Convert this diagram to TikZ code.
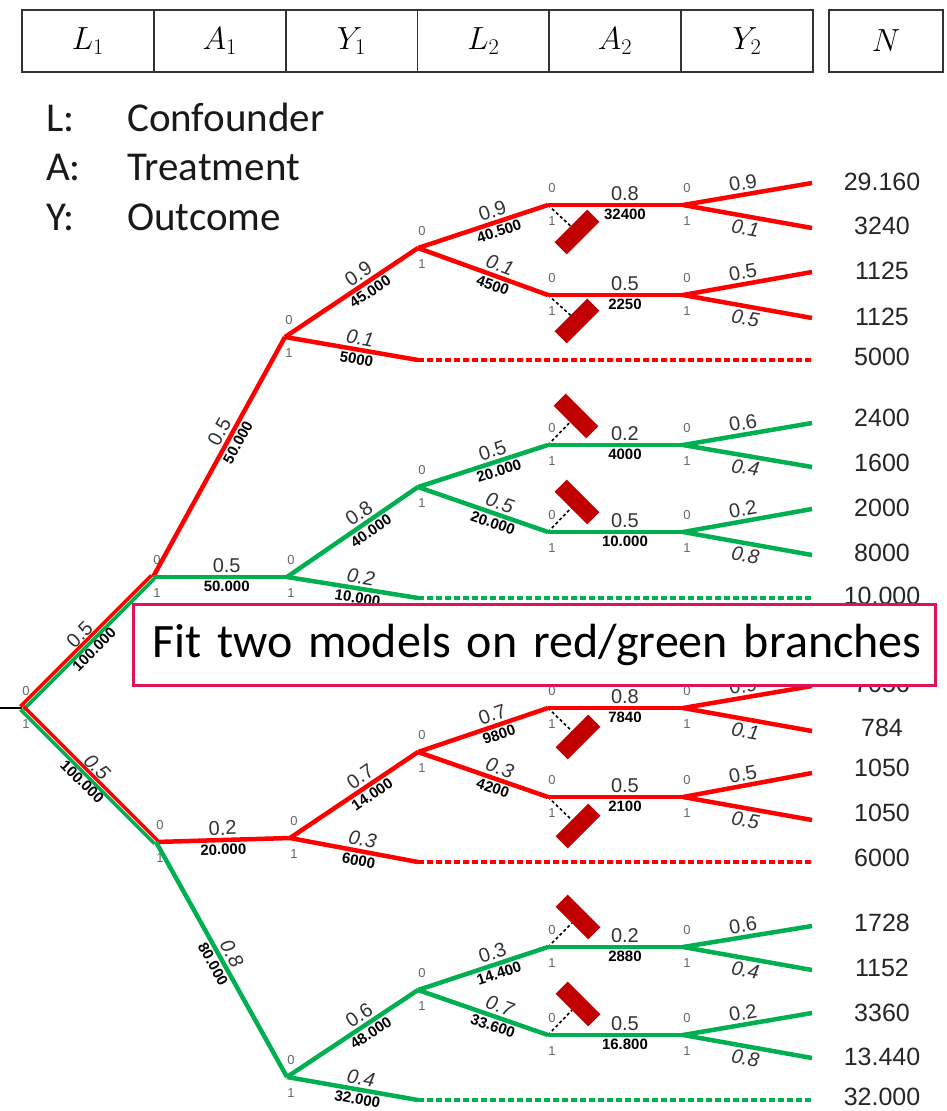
\RequirePackage{fix-cm}
\documentclass[tikz,border=0pt]{standalone}
\usepackage[no-math]{fontspec}
\setmainfont{Liberation Sans}
\newfontfamily\calibri{Carlito}
\usetikzlibrary{positioning}

\definecolor{tred}{RGB}{255,0,0}
\definecolor{tgreen}{RGB}{0,176,80}
\definecolor{tblock}{RGB}{192,0,0}
\definecolor{tnote}{RGB}{222,18,90}

\tikzset{
  redln/.style={draw=tred, line width=4.5pt},
  greenln/.style={draw=tgreen, line width=4.5pt},
  redcut/.style={redln, line width=3.5pt, dash pattern=on 6pt off 3pt},
  greencut/.style={greenln, line width=3.5pt, dash pattern=on 6pt off 3pt},
  stubln/.style={draw=black, line width=1.6pt, dash pattern=on 3pt off 2.5pt},
  bit/.style={font=\fontsize{13}{13}\selectfont, text=black!60, inner sep=0pt},
  split/.style={label={[bit, xshift=4pt, yshift=17pt]center:0}, label={[bit, xshift=4pt, yshift=-16pt]center:1}},
  pr/.style={sloped, above, pos=.55, inner sep=2.5pt, text=black!80, font=\fontsize{20}{20}\selectfont},
  pri/.style={pr, font=\fontsize{20}{20}\selectfont\itshape},
  prd/.style={pri, below, pos=.5},
  ct/.style={sloped, below, pos=.55, inner sep=2pt, font=\fontsize{15}{15}\selectfont\bfseries},
  blocked/.style={fill=tblock, minimum width=46pt, minimum height=17pt, inner sep=0pt},
  nval/.style={font=\fontsize{25}{25}\selectfont, text=black!85},
  hbox/.style={draw=black!80, line width=1.8pt, minimum width=131.8pt, minimum height=62pt, outer sep=0pt, font=\fontsize{32}{38}\selectfont},
  legend/.style={anchor=base west, inner sep=0pt, text=black!90, font=\calibri\fontsize{41}{41}\selectfont},
  notebox/.style={draw=tnote, line width=3pt, fill=white, inner xsep=11pt, text width=780pt, align=left, minimum height=81pt, font=\calibri\fontsize{48}{48}\selectfont}
}

\begin{document}
\begin{tikzpicture}[x=1pt, y=-1pt]
\useasboundingbox (0,0) rectangle (946,1111);

% header
\node[hbox] (hL1) at (87.9,41) {$L_1$};
\node[hbox, right=0pt of hL1] (hA1) {$A_1$};
\node[hbox, right=0pt of hA1] (hY1) {$Y_1$};
\node[hbox, right=0pt of hY1] (hL2) {$L_2$};
\node[hbox, right=0pt of hL2] (hA2) {$A_2$};
\node[hbox, right=0pt of hA2] (hY2) {$Y_2$};
\node[hbox, minimum width=114pt] (hN) at (886,41) {$N$};

% legend
\node[legend] (kL) at (46,131) {L:};
\node[legend] (kLt) at (127,131) {Confounder};
\node[legend] (kA) at (46,180) {A:};
\node[legend] (kAt) at (127,180) {Treatment};
\node[legend] (kY) at (46,230) {Y:};
\node[legend] (kYt) at (127,230) {Outcome};

% tree points
\coordinate (in) at (0,708);
\coordinate[split] (r) at (22,708);
\coordinate[split] (a) at (153,577);
\coordinate[split] (b) at (156,842);
\coordinate[split] (a0) at (285,337);
\coordinate[split] (a1) at (287,577);
\coordinate[split] (b0) at (290,838);
\coordinate[split] (b1) at (287,1077);
\coordinate[split] (a00) at (418,248);
\coordinate (a01) at (418,360);
\coordinate[split] (a10) at (418,487);
\coordinate (a11) at (418,598);
\coordinate[split] (b00) at (418,752);
\coordinate (b01) at (418,862);
\coordinate[split] (b10) at (418,990);
\coordinate (b11) at (418,1100);
\coordinate (a01e) at (812,360);
\coordinate (a11e) at (812,598);
\coordinate (b01e) at (812,862);
\coordinate (b11e) at (812,1100);
\coordinate[split] (a000) at (548,205);
\coordinate[split] (a001) at (548,295);
\coordinate[split] (a100) at (548,445);
\coordinate[split] (a101) at (548,532);
\coordinate[split] (b000) at (548,708);
\coordinate[split] (b001) at (548,797);
\coordinate[split] (b100) at (548,947);
\coordinate[split] (b101) at (548,1035);
\coordinate[split] (a000x) at (683,205);
\coordinate[split] (a001x) at (683,295);
\coordinate[split] (a100x) at (683,445);
\coordinate[split] (a101x) at (683,532);
\coordinate[split] (b000x) at (683,708);
\coordinate[split] (b001x) at (683,797);
\coordinate[split] (b100x) at (683,947);
\coordinate[split] (b101x) at (683,1035);
\coordinate (a000u) at (812,183);
\coordinate (a000d) at (812,228);
\coordinate (a001u) at (812,272);
\coordinate (a001d) at (812,318);
\coordinate (a100u) at (812,423);
\coordinate (a100d) at (812,467);
\coordinate (a101u) at (812,509);
\coordinate (a101d) at (812,555);
\coordinate (b000u) at (812,686);
\coordinate (b000d) at (812,731);
\coordinate (b001u) at (812,773);
\coordinate (b001d) at (812,820);
\coordinate (b100u) at (812,926);
\coordinate (b100d) at (812,970);
\coordinate (b101u) at (812,1013);
\coordinate (b101d) at (812,1058);

% root and L1
\draw[black, line width=1.5pt] (in) -- (r);
\draw[greenln, line width=3.5pt, transform canvas={xshift=1.6pt, yshift=-1.6pt}] (r) -- (a);
\draw[redln, line width=3.5pt, transform canvas={xshift=-1.6pt, yshift=1.6pt}] (r) -- (a);
\path (r) -- node[pr, pos=.5, inner sep=4pt]{0.5} node[ct, pos=.5, inner sep=4pt]{100.000} (a);
\draw[greenln, line width=3.5pt, transform canvas={xshift=-1.6pt, yshift=-1.6pt}] (r) -- (b);
\draw[redln, line width=3.5pt, transform canvas={xshift=1.6pt, yshift=1.6pt}] (r) -- (b);
\path (r) -- node[pri, pos=.5, inner sep=4pt]{0.5} node[ct, pos=.5, inner sep=4pt]{100.000} (b);

% A1
\draw[redln] (a) -- node[pr, pos=.58]{0.5} node[ct, pos=.58]{50.000} (a0);
\draw[greenln] (a) -- node[pr]{0.5} node[ct]{50.000} (a1);
\draw[redln] (b) -- node[pr, pos=.5]{0.2} node[ct, pos=.5]{20.000} (b0);
\draw[greenln] (b) -- node[pri, pos=.5]{0.8} node[ct, pos=.5]{80.000} (b1);

% Y1
\draw[redln] (a0) -- node[pr, pos=.6]{0.9} node[ct, pos=.6]{45.000} (a00);
\draw[redln] (a0) -- node[pri]{0.1} node[ct]{5000} (a01);
\draw[greenln] (a1) -- node[pr, pos=.6]{0.8} node[ct, pos=.6]{40.000} (a10);
\draw[greenln] (a1) -- node[pri]{0.2} node[ct]{10.000} (a11);
\draw[redln] (b0) -- node[pr, pos=.6]{0.7} node[ct, pos=.6]{14.000} (b00);
\draw[redln] (b0) -- node[pri]{0.3} node[ct]{6000} (b01);
\draw[greenln] (b1) -- node[pr, pos=.6]{0.6} node[ct, pos=.6]{48.000} (b10);
\draw[greenln] (b1) -- node[pri]{0.4} node[ct]{32.000} (b11);
\draw[redcut] (a01) -- (a01e);
\draw[greencut] (a11) -- (a11e);
\draw[redcut] (b01) -- (b01e);
\draw[greencut] (b11) -- (b11e);

% L2
\draw[redln] (a00) -- node[pr, pos=.6]{0.9} node[ct, pos=.6]{40.500} (a000);
\draw[redln] (a00) -- node[pri, pos=.6]{0.1} node[ct, pos=.6]{4500} (a001);
\draw[greenln] (a10) -- node[pr, pos=.6]{0.5} node[ct, pos=.6]{20.000} (a100);
\draw[greenln] (a10) -- node[pri, pos=.6]{0.5} node[ct, pos=.6]{20.000} (a101);
\draw[redln] (b00) -- node[pr, pos=.6]{0.7} node[ct, pos=.6]{9800} (b000);
\draw[redln] (b00) -- node[pri, pos=.6]{0.3} node[ct, pos=.6]{4200} (b001);
\draw[greenln] (b10) -- node[pr, pos=.6]{0.3} node[ct, pos=.6]{14.400} (b100);
\draw[greenln] (b10) -- node[pri, pos=.6]{0.7} node[ct, pos=.6]{33.600} (b101);

% A2 with the blocked arm
\node[blocked, rotate=45] (xa000) at (577,232) {};
\node[blocked, rotate=45] (xa001) at (577,321) {};
\node[blocked, rotate=-45] (xa100) at (576,416) {};
\node[blocked, rotate=-45] (xa101) at (577,502) {};
\node[blocked, rotate=45] (xb000) at (578,737) {};
\node[blocked, rotate=45] (xb001) at (578,826) {};
\node[blocked, rotate=-45] (xb100) at (578,917) {};
\node[blocked, rotate=-45] (xb101) at (578,1004) {};
\draw[stubln] (a000) -- (xa000);
\draw[stubln] (a001) -- (xa001);
\draw[stubln] (a100) -- (xa100);
\draw[stubln] (a101) -- (xa101);
\draw[stubln] (b000) -- (xb000);
\draw[stubln] (b001) -- (xb001);
\draw[stubln] (b100) -- (xb100);
\draw[stubln] (b101) -- (xb101);
\draw[redln] (a000) -- node[pr, pos=.57]{0.8} node[ct, pos=.57]{32400} (a000x);
\draw[redln] (a001) -- node[pr, pos=.57]{0.5} node[ct, pos=.57]{2250} (a001x);
\draw[greenln] (a100) -- node[pr, pos=.57]{0.2} node[ct, pos=.57]{4000} (a100x);
\draw[greenln] (a101) -- node[pr, pos=.57]{0.5} node[ct, pos=.57]{10.000} (a101x);
\draw[redln] (b000) -- node[pr, pos=.57]{0.8} node[ct, pos=.57]{7840} (b000x);
\draw[redln] (b001) -- node[pr, pos=.57]{0.5} node[ct, pos=.57]{2100} (b001x);
\draw[greenln] (b100) -- node[pr, pos=.57]{0.2} node[ct, pos=.57]{2880} (b100x);
\draw[greenln] (b101) -- node[pr, pos=.57]{0.5} node[ct, pos=.57]{16.800} (b101x);

% Y2
\draw[redln] (a000x) -- node[pr, pos=.48]{0.9} (a000u);
\draw[redln] (a000x) -- node[prd]{0.1} (a000d);
\draw[redln] (a001x) -- node[pr, pos=.48]{0.5} (a001u);
\draw[redln] (a001x) -- node[prd]{0.5} (a001d);
\draw[greenln] (a100x) -- node[pr, pos=.48]{0.6} (a100u);
\draw[greenln] (a100x) -- node[prd]{0.4} (a100d);
\draw[greenln] (a101x) -- node[pr, pos=.48]{0.2} (a101u);
\draw[greenln] (a101x) -- node[prd]{0.8} (a101d);
\draw[redln] (b000x) -- node[pr, pos=.48]{0.9} (b000u);
\draw[redln] (b000x) -- node[prd]{0.1} (b000d);
\draw[redln] (b001x) -- node[pr, pos=.48]{0.5} (b001u);
\draw[redln] (b001x) -- node[prd]{0.5} (b001d);
\draw[greenln] (b100x) -- node[pr, pos=.48]{0.6} (b100u);
\draw[greenln] (b100x) -- node[prd]{0.4} (b100d);
\draw[greenln] (b101x) -- node[pr, pos=.48]{0.2} (b101u);
\draw[greenln] (b101x) -- node[prd]{0.8} (b101d);

% counts N
\node[nval] (N1) at (882,182) {29.160};
\node[nval] (N2) at (882,226) {3240};
\node[nval] (N3) at (882,271) {1125};
\node[nval] (N4) at (882,317) {1125};
\node[nval] (N5) at (882,357) {5000};
\node[nval] (N6) at (882,418) {2400};
\node[nval] (N7) at (882,463) {1600};
\node[nval] (N8) at (882,508) {2000};
\node[nval] (N9) at (882,553) {8000};
\node[nval] (N10) at (882,596) {10.000};
\node[nval] (N11) at (882,684) {7056};
\node[nval] (N12) at (882,728) {784};
\node[nval] (N13) at (882,768) {1050};
\node[nval] (N14) at (882,813) {1050};
\node[nval] (N15) at (882,858) {6000};
\node[nval] (N16) at (882,923) {1728};
\node[nval] (N17) at (882,968) {1152};
\node[nval] (N18) at (882,1013) {3360};
\node[nval] (N19) at (882,1057) {13.440};
\node[nval] (N20) at (882,1097) {32.000};

% note
\node[notebox] (note) at (534,644.5) {\hspace*{8pt}Fit two models on red/green branches};
\end{tikzpicture}
\end{document}
